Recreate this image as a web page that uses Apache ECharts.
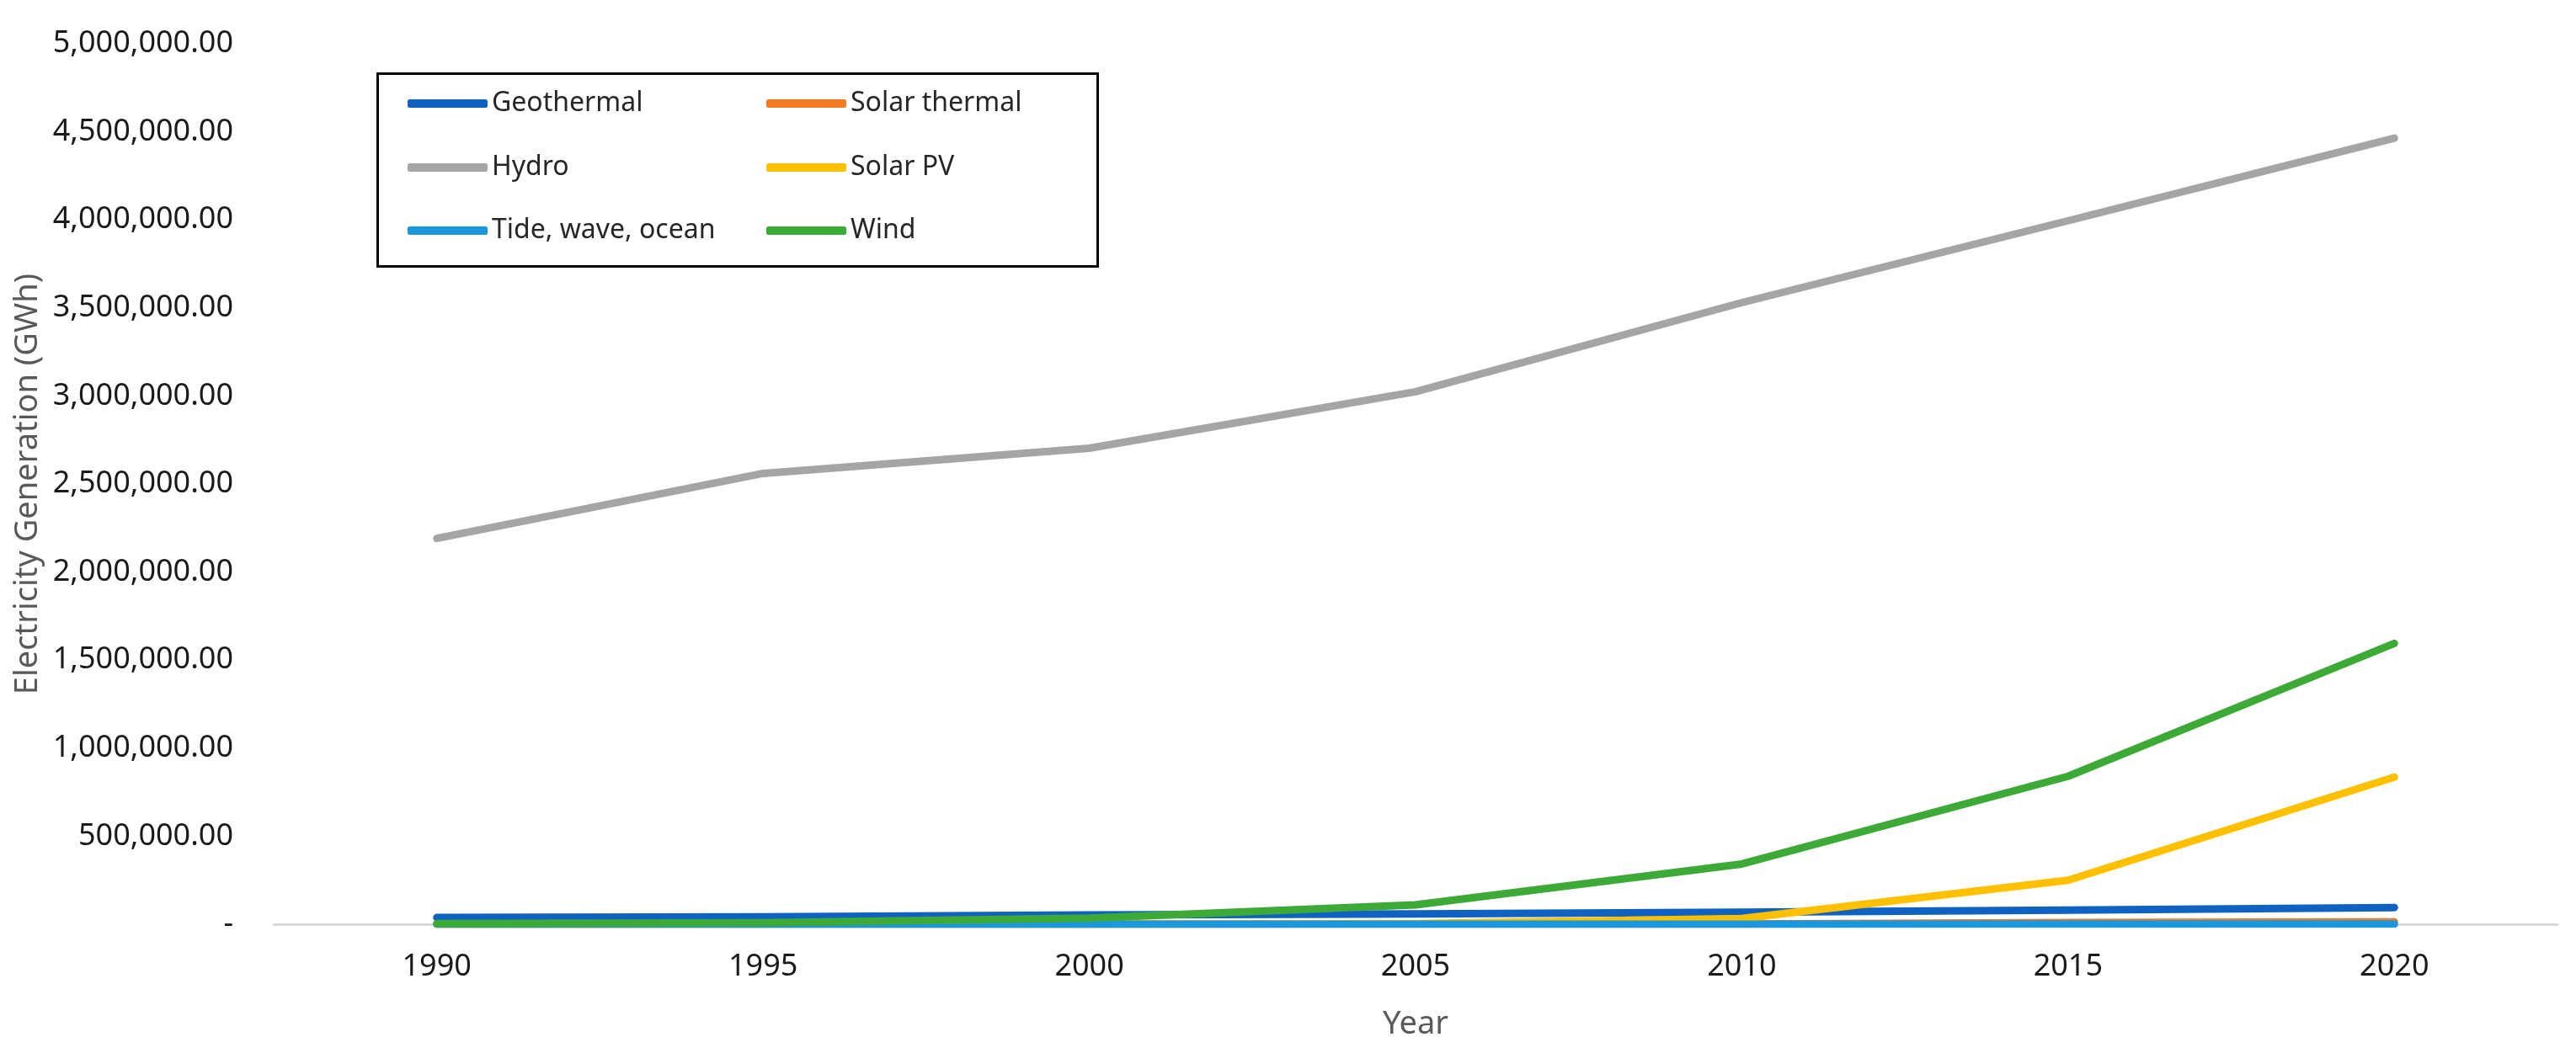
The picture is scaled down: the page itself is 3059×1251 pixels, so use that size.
<!DOCTYPE html>
<html>
<head>
<meta charset="utf-8">
<script src="https://cdn.jsdelivr.net/npm/echarts@6/dist/echarts.min.js"></script>
<style>
html,body{margin:0;padding:0;background:#fff;}
#chart{width:3059px;height:1251px;}
</style>
</head>
<body>
<div id="chart"></div>
<script>
const years = ['1990','1995','2000','2005','2010','2015','2020'];
const seriesNames = ['Geothermal','Solar thermal','Hydro','Solar PV','Tide, wave, ocean','Wind'];
const geothermal = [38000, 42000, 52000, 58000, 68000, 80000, 95000];
const solarThermal = [650, 800, 550, 600, 1700, 9500, 13000];
const hydro = [2191000, 2560000, 2703000, 3024000, 3530000, 3995000, 4464000];
const solarPV = [400, 600, 1000, 4000, 32000, 250000, 835000];
const tide = [550, 560, 550, 550, 550, 1000, 1000];
const wind = [3600, 8000, 35000, 110000, 342000, 840000, 1595000];
const yTicks = {min: 0, max: 5000000, interval: 500000};

const colors = ['#0F62C1','#F57B25','#A5A5A5','#FFC000','#1B98DC','#3DA937'];
const values = [geothermal, solarThermal, hydro, solarPV, tide, wind];
const FONT = 'Noto Sans';

function fmt(v){
  if (v === 0) return '-';
  return v.toLocaleString('en-US',{minimumFractionDigits:2, maximumFractionDigits:2});
}

// legend layout: 3 rows x 2 columns (row-major)
const legendCols = [484, 910];
const legendRows = [126, 202, 277];
const legends = seriesNames.map((name, i) => ({
  data: [name],
  left: legendCols[i % 2],
  top: legendRows[Math.floor(i / 2)] - 19,
  padding: 0,
  icon: 'roundRect',
  itemWidth: 95,
  itemHeight: 10,
  itemGap: 0,
  selectedMode: false,
  textStyle: {fontFamily: FONT, fontSize: 32, color: '#262626', padding: [0,0,0,0]}
}));

const chart = echarts.init(document.getElementById('chart'), null, {renderer: 'canvas'});
chart.setOption({
  animation: false,
  backgroundColor: '#ffffff',
  color: colors,
  grid: {left: 325, right: 22, top: 52, bottom: 153, containLabel: false},
  legend: legends,
  graphic: [{
    type: 'rect',
    left: 447, top: 86,
    shape: {width: 855, height: 229},
    style: {fill: 'rgba(0,0,0,0)', stroke: '#000000', lineWidth: 3},
    z: 10
  }],
  xAxis: {
    type: 'category',
    data: years,
    boundaryGap: true,
    name: 'Year',
    nameLocation: 'middle',
    nameGap: 100,
    nameTextStyle: {fontFamily: FONT, fontSize: 38, color: '#595959'},
    axisLine: {lineStyle: {color: '#D9D9D9', width: 3}},
    axisTick: {show: false},
    axisLabel: {fontFamily: FONT, fontSize: 36, color: '#1a1a1a', margin: 33},
    splitLine: {show: false}
  },
  yAxis: {
    type: 'value',
    min: yTicks.min, max: yTicks.max, interval: yTicks.interval,
    name: 'Electricity Generation (GWh)',
    nameLocation: 'middle',
    nameGap: 271,
    nameRotate: 90,
    nameTextStyle: {fontFamily: FONT, fontSize: 38, color: '#595959'},
    axisLine: {show: false},
    axisTick: {show: false},
    splitLine: {show: false},
    axisLabel: {fontFamily: FONT, fontSize: 36, color: '#1a1a1a', margin: 48, formatter: fmt}
  },
  series: seriesNames.map((name, i) => ({
    name: name,
    type: 'line',
    data: values[i],
    symbol: 'none',
    smooth: false,
    lineStyle: {width: 9, color: colors[i], cap: 'round', join: 'round'},
    itemStyle: {color: colors[i]}
  }))
});
</script>
</body>
</html>
